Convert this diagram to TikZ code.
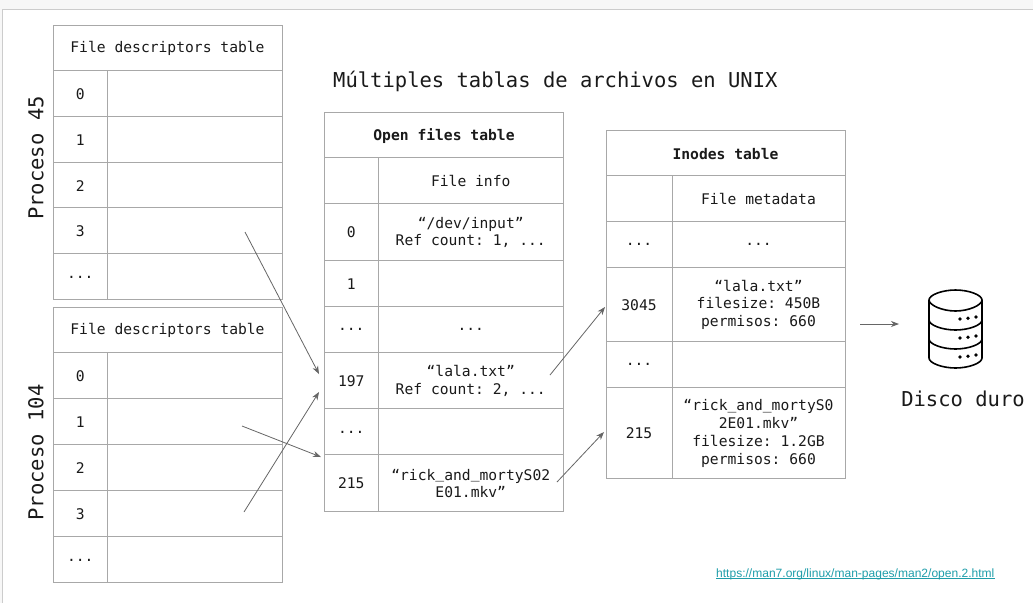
\documentclass[tikz,border=0pt]{standalone}
\usepackage{fontspec}
\setmainfont{Liberation Sans}
\setmonofont{DejaVu Sans Mono}
\usetikzlibrary{arrows.meta}
\definecolor{grid}{HTML}{A8A8A8}
\definecolor{arrowgray}{HTML}{666666}
\definecolor{linkteal}{HTML}{1F9EAA}
\definecolor{inktext}{HTML}{1A1A1A}
\newcommand{\usc}{\raisebox{1.6pt}{\_}}
\newcommand{\cellnode}[6]{\node[tablecell,minimum width={(#4)-(#2)},minimum height={(#5)-(#3)}] (#1) at ({((#2)+(#4))/2},{((#3)+(#5))/2}) {};
 \node[celltext] (#1t) at ({((#2)+(#4))/2},{((#3)+(#5))/2+0.9}) {#6};}
\newcommand{\fdtable}[8]{%
 \cellnode{#1h}{53}{#2}{282}{#3}{File descriptors table}
 \cellnode{#1a0}{53}{#3}{107.5}{#4}{0}\cellnode{#1b0}{107.5}{#3}{282}{#4}{}
 \cellnode{#1a1}{53}{#4}{107.5}{#5}{1}\cellnode{#1b1}{107.5}{#4}{282}{#5}{}
 \cellnode{#1a2}{53}{#5}{107.5}{#6}{2}\cellnode{#1b2}{107.5}{#5}{282}{#6}{}
 \cellnode{#1a3}{53}{#6}{107.5}{#7}{3}\cellnode{#1b3}{107.5}{#6}{282}{#7}{}
 \cellnode{#1a4}{53}{#7}{107.5}{#8}{...}
}
\begin{document}
\begin{tikzpicture}[x=1pt,y=-1pt,
  tablecell/.style={draw=grid,line width=1pt,inner sep=0pt},
  celltext/.style={inner sep=0pt,align=center,font=\fontsize{14.66}{17.7}\selectfont\ttfamily,text=inktext},
  biglabel/.style={inner sep=0pt,font=\fontsize{20.5}{24}\selectfont\ttfamily,text=inktext},
  linkarrow/.style={draw=arrowgray,line width=0.8pt,-{Stealth[length=8pt,width=6pt,inset=2.5pt]}},
  disk/.style={draw=black,line width=1.6pt,line join=round},
  diskdot/.style={fill=black,draw=none}]
\useasboundingbox (0,0) rectangle (1033,603);
\fill[white] (0,0) rectangle (1033,603);
\fill[black!3] (0,0) rectangle (1033,9);
\fill[black!3] (0,0) rectangle (2,603);
\draw[black!20,line width=0.8pt] (2.5,603) -- (2.5,9.5) -- (1033,9.5);
% fd table 1
\fdtable{p}{25.5}{70}{116}{162}{207.5}{253.5}{299.5}
\cellnode{pb4}{107.5}{253.5}{282}{299.5}{}
% fd table 2
\fdtable{q}{307}{352}{398}{444}{490}{536}{582}
\cellnode{qb4}{107.5}{536}{282}{582}{}
\node[biglabel,rotate=90] (p45) at (36,158) {Proceso 45};
\node[biglabel,rotate=90] (p104) at (36,452.5) {Proceso 104};
\node[biglabel,anchor=west] (title) at (333,81) {Múltiples tablas de archivos en UNIX};
% open files
\cellnode{oh}{324.5}{112.5}{563.5}{157}{\bfseries Open files table}
\cellnode{oa}{324.5}{157}{378}{203}{}\cellnode{ob}{378}{157}{563.5}{203}{File info}
\cellnode{oa0}{324.5}{203}{378}{260}{0}\cellnode{ob0}{378}{203}{563.5}{260}{“/dev/input”\\Ref count: 1, ...}
\cellnode{oa1}{324.5}{260}{378}{306}{1}\cellnode{ob1}{378}{260}{563.5}{306}{}
\cellnode{oa2}{324.5}{306}{378}{352}{...}\cellnode{ob2}{378}{306}{563.5}{352}{...}
\cellnode{oa3}{324.5}{352}{378}{408}{197}\cellnode{ob3}{378}{352}{563.5}{408}{“lala.txt”\\Ref count: 2, ...}
\cellnode{oa4}{324.5}{408}{378}{454}{...}\cellnode{ob4}{378}{408}{563.5}{454}{}
\cellnode{oa5}{324.5}{454}{378}{511}{215}\cellnode{ob5}{378}{454}{563.5}{511}{“rick\usc and\usc mortyS02\\E01.mkv”}
% inodes
\cellnode{ih}{606}{130.5}{845}{175}{\bfseries Inodes table}
\cellnode{ia}{606}{175}{672}{221}{}\cellnode{ib}{672}{175}{845}{221}{File metadata}
\cellnode{ia0}{606}{221}{672}{267}{...}\cellnode{ib0}{672}{221}{845}{267}{...}
\cellnode{ia1}{606}{267}{672}{341}{3045}\cellnode{ib1}{672}{267}{845}{341}{“lala.txt”\\filesize: 450B\\permisos: 660}
\cellnode{ia2}{606}{341}{672}{387}{...}\cellnode{ib2}{672}{341}{845}{387}{}
\cellnode{ia3}{606}{387}{672}{478}{215}\cellnode{ib3}{672}{387}{845}{478}{“rick\usc and\usc mortyS0\\2E01.mkv”\\filesize: 1.2GB\\permisos: 660}
% connector ends
\coordinate (s1) at (245,232); \coordinate (e1) at (319,374);
\coordinate (s2) at (242,426); \coordinate (e2) at (321,457);
\coordinate (s3) at (244,512); \coordinate (e3) at (319,392);
\coordinate (s4) at (550,375); \coordinate (e4) at (605,307);
\coordinate (s5) at (557,482); \coordinate (e5) at (604,432);
\coordinate (s6) at (860,324); \coordinate (e6) at (899,324);
\draw[linkarrow] (s1) -- (e1);
\draw[linkarrow] (s2) -- (e2);
\draw[linkarrow] (s3) -- (e3);
\draw[linkarrow] (s4) -- (e4);
\draw[linkarrow] (s5) -- (e5);
\draw[linkarrow] (s6) -- (e6);
% disk icon
\draw[disk] (929,300) -- (929,358) .. controls (929,363) and (942,368) .. (955.5,368) .. controls (969,368) and (982,363) .. (982,358) -- (982,300);
\draw[disk] (955.5,290) .. controls (969,290) and (982,295) .. (982,300) .. controls (982,305) and (969,311) .. (955.5,311) .. controls (942,311) and (929,305) .. (929,300) .. controls (929,295) and (942,290) .. (955.5,290) -- cycle;
\draw[disk] (929,320) .. controls (929,325) and (942,330) .. (955.5,330) .. controls (969,330) and (982,325) .. (982,320);
\draw[disk] (929,339) .. controls (929,344) and (942,349) .. (955.5,349) .. controls (969,349) and (982,344) .. (982,339);
\foreach \yy in {319,338,357}{
  \fill[diskdot] (960,\yy) circle (1.9pt);
  \fill[diskdot] (968,\yy-0.8) circle (1.9pt);
  \fill[diskdot] (976,\yy-2) circle (1.9pt);
}
\node[biglabel] (disco) at (963,399) {Disco duro};
\node[inner sep=0pt,anchor=west,text=linkteal,font=\fontsize{12.03}{14}\selectfont] (url) at (716,574) {\rlap{\smash{\rule[-1.4pt]{279pt}{0.6pt}}}https://man7.org/linux/man-pages/man2/open.2.html};
\end{tikzpicture}
\end{document}
